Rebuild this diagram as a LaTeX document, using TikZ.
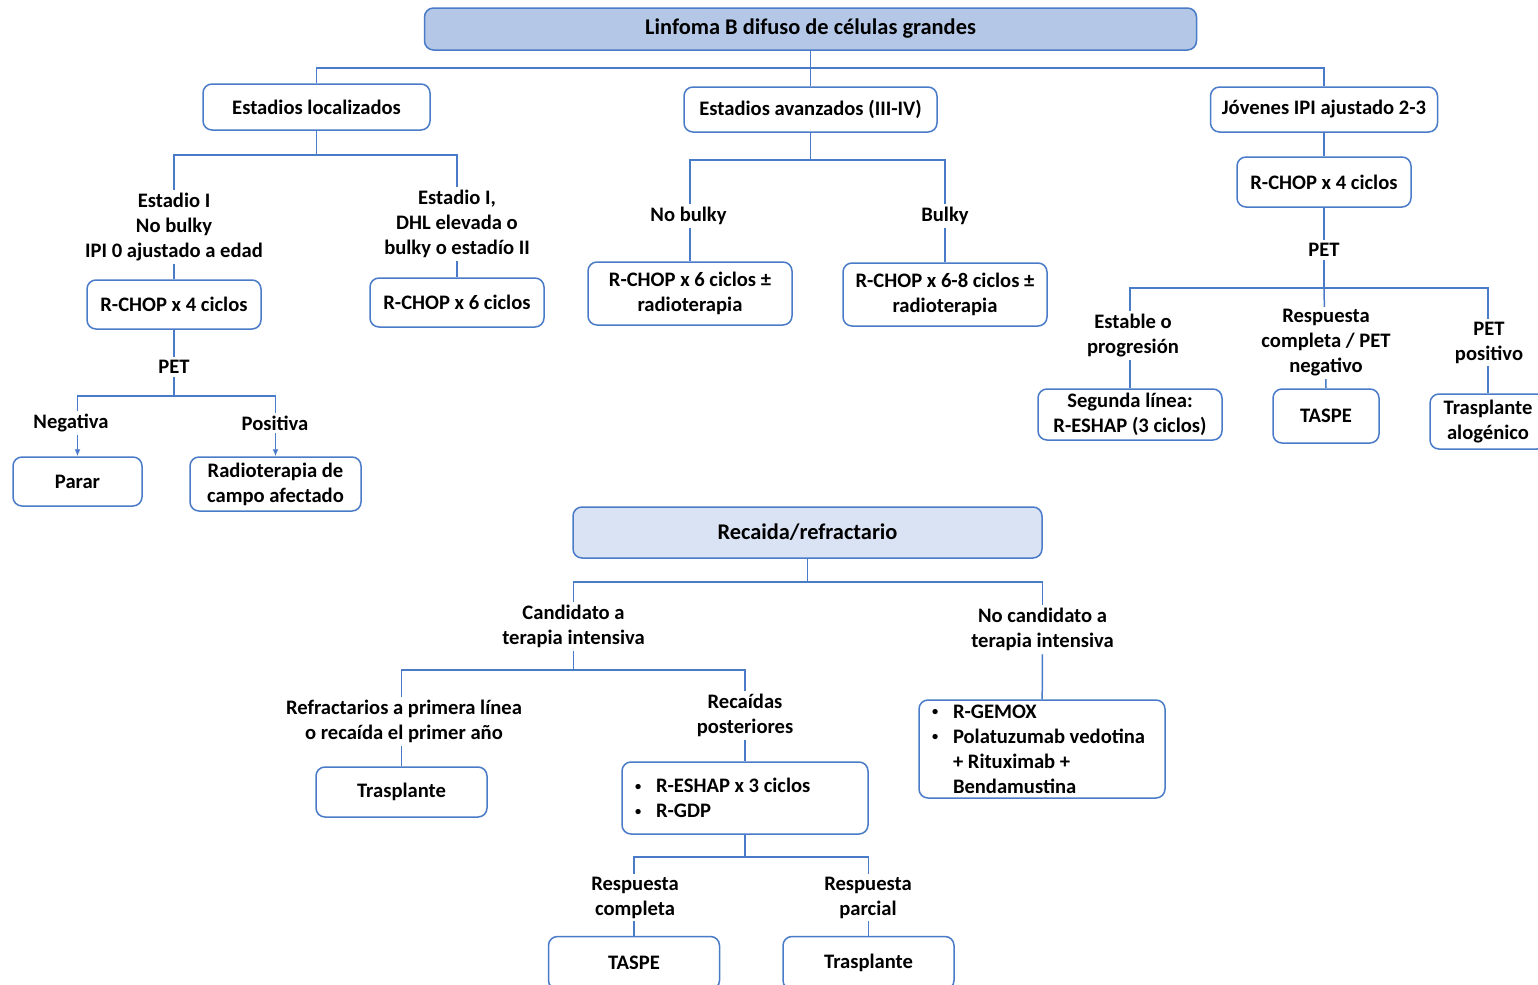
\documentclass[tikz,border=0pt]{standalone}
\usepackage{fontspec}
\usepackage{graphicx}
\setmainfont{Carlito}
\usetikzlibrary{backgrounds,arrows.meta}
\definecolor{ln}{HTML}{4A7BC8}
\definecolor{tf}{HTML}{B4C7E7}
\definecolor{rf}{HTML}{DAE3F3}
\newcommand\mybul{\makebox[11.5pt][l]{\hspace{1pt}\raisebox{0.25ex}{\scalebox{0.6}{\textbullet}}}}
\begin{document}
\begin{tikzpicture}[x=0.5pt,y=-0.5pt,
 every node/.style={font=\bfseries\fontsize{10.3}{12.5}\selectfont, text=black},
 box/.style={draw=ln, fill=white, rounded corners=4.5pt, line width=0.75pt, align=center, inner sep=0pt},
 lab/.style={fill=white, align=center, inner sep=1.5pt, yshift=-1pt},
 conn/.style={draw=ln, line width=0.75pt},
 arr/.style={conn, -{Latex[length=3.5pt,width=3pt]}},
 big/.style={font=\bfseries\fontsize{11.2}{13.5}\selectfont},
 bl/.style={box, align=flush left, text width=112pt, inner xsep=5.5pt}
]
\useasboundingbox (0,0) rectangle (1538,985);

% top
\node[box, big, fill=tf, minimum width=386pt, minimum height=21pt] (title) at (810.5,29) {\raisebox{-1pt}{Linfoma B difuso de células grandes}};
\node[box, minimum width=113.5pt, minimum height=23pt] (loc) at (316.5,107) {Estadios localizados};
\node[box, minimum width=126.5pt, minimum height=22.5pt] (ava) at (810.5,109.5) {Estadios avanzados (III-IV)};
\node[box, minimum width=113.5pt, minimum height=22.5pt] (jov) at (1324,109.5) {Jóvenes IPI ajustado 2-3};

% localizados
\node[lab] (lab1) at (174,225) {Estadio I\\No bulky\\IPI 0 ajustado a edad};
\node[lab] (lab2) at (457,222) {Estadio I,\\DHL elevada o\\bulky o estadío II};
\node[box, minimum width=87pt, minimum height=24.5pt] (rc4) at (174,304.5) {R-CHOP x 4 ciclos};
\node[box, minimum width=87pt, minimum height=24.5pt] (rc6) at (457,302.5) {R-CHOP x 6 ciclos};
\node[lab] (pet1) at (174,365) {PET};
\node[lab] (neg) at (71,421) {Negativa};
\node[lab] (pos) at (275,421) {Positiva};
\node[box, minimum width=64.5pt, minimum height=24.5pt] (parar) at (77.5,481.5) {Parar};
\node[box, minimum width=85.5pt, minimum height=27pt] (radio) at (275.5,484) {Radioterapia de\\campo afectado};

% avanzados
\node[lab] (nob) at (688.5,214) {No bulky};
\node[lab] (bul) at (945,214) {Bulky};
\node[box, minimum width=102pt, minimum height=31.5pt] (rca) at (690,293.5) {R-CHOP x 6 ciclos ±\\radioterapia};
\node[box, minimum width=102pt, minimum height=31.5pt] (rcb) at (945,294.5) {R-CHOP x 6-8 ciclos ±\\radioterapia};

% jovenes
\node[box, minimum width=87pt, minimum height=25pt] (jrc) at (1324,182) {R-CHOP x 4 ciclos};
\node[lab] (pet2) at (1324,248) {PET};
\node[lab] (est) at (1133,333.5) {Estable o\\progresión};
\node[lab] (resp) at (1326,341) {Respuesta\\completa / PET\\negativo};
\node[lab] (petp) at (1489,340.5) {PET\\positivo};
\node[box, minimum width=92pt, minimum height=25.5pt] (seg) at (1130,414.5) {Segunda línea:\\R-ESHAP (3 ciclos)};
\node[box, minimum width=53pt, minimum height=27pt] (taspe1) at (1326,416) {TASPE};
\node[box, minimum width=58pt, minimum height=27.5pt] (alo) at (1488,421.5) {Trasplante\\alogénico};

% recaida
\node[box, big, fill=rf, minimum width=234.5pt, minimum height=25.5pt] (rec) at (807.5,532.5) {\raisebox{-1pt}{Recaida/refractario}};
\node[lab] (cand) at (573.5,624.5) {Candidato a\\terapia intensiva};
\node[lab] (nocand) at (1042.5,627.5) {No candidato a\\terapia intensiva};
\node[lab] (refr) at (404,719.5) {Refractarios a primera línea\\o recaída el primer año};
\node[lab] (recp) at (745,713.5) {Recaídas\\posteriores};
\node[box, minimum width=85.5pt, minimum height=25pt] (tras1) at (401.5,792) {Trasplante};
\node[bl, minimum height=36pt] (esh) at (745,798) {\mybul R-ESHAP x 3 ciclos\\\mybul R-GDP};
\node[bl, minimum height=49pt] (nocb) at (1042,749) {\mybul R-GEMOX\\\mybul Polatuzumab vedotina\\\hspace*{11.5pt}+ Rituximab +\\\hspace*{11.5pt}Bendamustina};
\node[lab] (rcmp) at (635,895.5) {Respuesta\\completa};
\node[lab] (rpar) at (868,895.5) {Respuesta\\parcial};
\node[box, minimum width=85.5pt, minimum height=26.5pt] (taspe2) at (634,963) {TASPE};
\node[box, minimum width=85.5pt, minimum height=26.5pt] (tras2) at (868.5,963) {Trasplante};

\coordinate (b0) at (810.5,68);
\coordinate (b1) at (316.5,155);
\coordinate (b2) at (174,396);
\coordinate (b3) at (810.5,160);
\coordinate (b4) at (1324,288);
\coordinate (b5) at (807.5,582);
\coordinate (b6) at (573.5,670);
\coordinate (b7) at (745,857);

\begin{scope}[on background layer]
\draw[conn] (title) -- (ava);
\draw[conn] (loc) |- (b0) -| (jov);
\draw[conn] (loc) -- (b1);
\draw[conn] (lab1) |- (b1) -| (lab2);
\draw[conn] (lab1) -- (rc4);
\draw[conn] (lab2) -- (rc6);
\draw[conn] (rc4) -- (pet1) -- (b2);
\draw[arr] (b2) -| (parar.north);
\draw[arr] (b2) -| (radio.north);
\draw[conn] (ava) -- (b3);
\draw[conn] (rca) |- (b3) -| (rcb);
\draw[conn] (jov) -- (jrc) -- (pet2) -- (b4);
\draw[conn] (seg) |- (b4) -| (alo);
\draw[conn] (b4) -- (taspe1.north);
\draw[conn] (rec) -- (b5);
\draw[conn] (cand) |- (b5) -| (nocand);
\draw[conn] (nocand) -- (nocb);
\draw[conn] (cand) -- (b6);
\draw[conn] (tras1) |- (b6) -| (esh);
\draw[conn] (esh) -- (b7);
\draw[conn] (taspe2) |- (b7) -| (tras2);
\end{scope}
\end{tikzpicture}
\end{document}
